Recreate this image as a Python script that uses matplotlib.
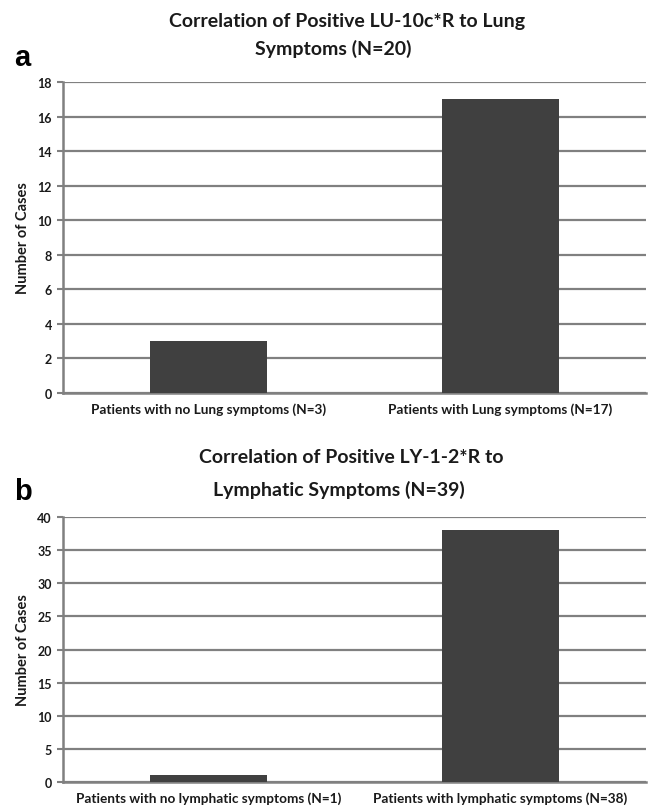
import matplotlib.pyplot as plt

plt.rcParams['font.family'] = 'Lato'

# panel a
cats_a = ["Patients with no Lung symptoms (N=3)", "Patients with Lung symptoms (N=17)"]
vals_a = [3, 17]
title_a = ["Correlation of Positive LU-10c*R to Lung", "Symptoms (N=20)"]
ticks_a = list(range(0, 19, 2))

# panel b
cats_b = ["Patients with no lymphatic symptoms (N=1)", "Patients with lymphatic symptoms (N=38)"]
vals_b = [1, 38]
title_b = ["Correlation of Positive LY-1-2*R to", "Lymphatic Symptoms (N=39)"]
ticks_b = list(range(0, 41, 5))

grid_col = "#808080"
bar_col = "#404040"

W, H = 649, 812
fig = plt.figure(figsize=(W / 100, H / 100), dpi=100)
ax_a = fig.add_axes([63 / W, 1 - 394 / H, 583 / W, 311 / H])
ax_b = fig.add_axes([63 / W, 1 - 783 / H, 583 / W, 265 / H])


def draw(ax, cats, vals, ticks):
    x = range(len(cats))
    ax.set_axisbelow(True)
    ax.bar(x, vals, width=0.4, color=bar_col, zorder=3)
    ax.set_xlim(-0.5, 1.5)
    ax.set_ylim(ticks[0], ticks[-1])
    ax.set_yticks(ticks)
    ax.set_xticks(list(x))
    ax.set_xticklabels(cats, fontsize=9.8, fontweight='bold', color='#1a1a1a')
    ax.tick_params(axis='x', length=0, pad=7)
    ax.tick_params(axis='y', labelsize=9, length=4, width=1.5, color=grid_col,
                   pad=4, labelcolor='#1a1a1a')
    for t in ax.get_yticklabels():
        t.set_fontweight('bold')
    ax.yaxis.grid(True, color=grid_col, linewidth=1.6)
    for s in ['top', 'right']:
        ax.spines[s].set_visible(False)
    for s in ['left', 'bottom']:
        ax.spines[s].set_color(grid_col)
        ax.spines[s].set_linewidth(1.8)
    ax.set_ylabel("Number of Cases", fontsize=10.5, fontweight='bold', labelpad=5,
                  color='#1a1a1a')


draw(ax_a, cats_a, vals_a, ticks_a)
draw(ax_b, cats_b, vals_b, ticks_b)

# titles, one text per line as in the original layout
for txt, (xc, yc) in zip(title_a, [(347, 22), (333, 49)]):
    fig.text(xc / W, 1 - yc / H, txt, ha='center', va='center', fontsize=14,
             fontweight='bold', color='#1a1a1a')
for txt, (xc, yc) in zip(title_b, [(351, 458), (339, 490)]):
    fig.text(xc / W, 1 - yc / H, txt, ha='center', va='center', fontsize=14,
             fontweight='bold', color='#1a1a1a')

fig.text(14 / W, 1 - 58 / H, "a", fontsize=21, fontweight='bold', va='center',
         family='Liberation Sans')
fig.text(14 / W, 1 - 492 / H, "b", fontsize=21, fontweight='bold', va='center',
         family='Liberation Sans')

fig.savefig("out.png", dpi=100, facecolor='white')
